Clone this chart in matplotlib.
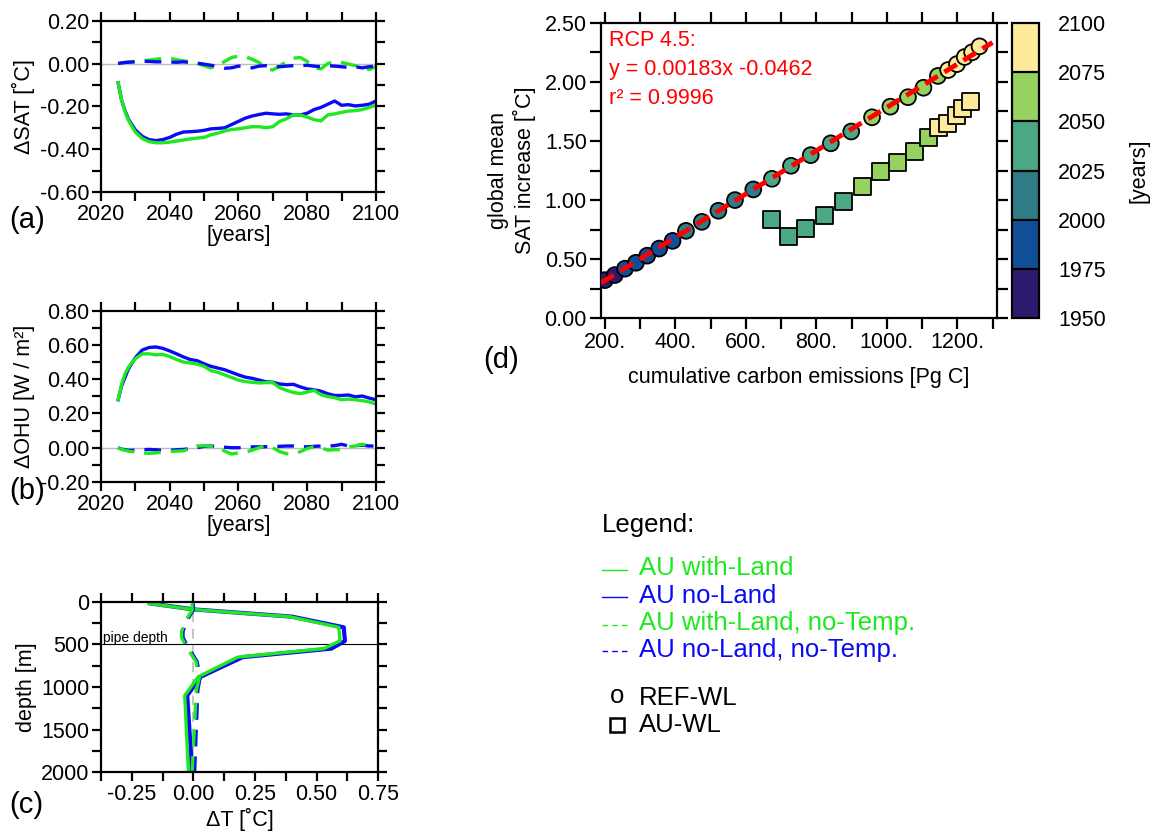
import numpy as np
import matplotlib
matplotlib.use('Agg')
import matplotlib.pyplot as plt
from matplotlib.colors import ListedColormap, BoundaryNorm
from matplotlib.ticker import MultipleLocator, FuncFormatter
from matplotlib.lines import Line2D

plt.rcParams['font.family'] = ['Liberation Sans', 'DejaVu Sans']
plt.rcParams['axes.unicode_minus'] = False

GREEN = '#1ee81e'
BLUE = '#0a0af5'

# ---------------- data ----------------
years = [2025, 2026, 2027, 2028, 2030, 2032, 2034, 2036, 2038, 2040,
         2042, 2044, 2046, 2048, 2050, 2052, 2054, 2056, 2058, 2060,
         2062, 2064, 2066, 2068, 2070, 2072, 2074, 2076, 2078, 2080,
         2082, 2084, 2086, 2088, 2090, 2092, 2094, 2096, 2098, 2100]

# (a) delta SAT
sat_noland = [-0.09, -0.17, -0.22, -0.26, -0.31, -0.34, -0.355, -0.36, -0.355, -0.345,
              -0.33, -0.32, -0.318, -0.316, -0.312, -0.305, -0.303, -0.30, -0.285, -0.27,
              -0.255, -0.245, -0.238, -0.232, -0.235, -0.237, -0.235, -0.24, -0.24, -0.232,
              -0.215, -0.205, -0.19, -0.175, -0.195, -0.192, -0.198, -0.195, -0.19, -0.175]
sat_land = [-0.09, -0.17, -0.225, -0.265, -0.32, -0.35, -0.365, -0.37, -0.37, -0.367,
            -0.362, -0.357, -0.352, -0.348, -0.345, -0.333, -0.325, -0.315, -0.308, -0.305,
            -0.30, -0.295, -0.295, -0.30, -0.295, -0.27, -0.258, -0.24, -0.24, -0.25,
            -0.262, -0.268, -0.24, -0.235, -0.228, -0.222, -0.22, -0.215, -0.205, -0.195]
sat_land_notemp = [0.0, 0.002, 0.005, 0.007, 0.01, 0.013, 0.016, 0.02, 0.024, 0.025,
                   0.018, 0.012, 0.008, 0.0, -0.01, -0.02, -0.01, 0.01, 0.028, 0.035,
                   0.032, 0.02, 0.005, -0.025, -0.03, -0.012, 0.01, 0.025, 0.028, 0.01,
                   -0.02, -0.025, 0.0, 0.01, 0.005, -0.002, -0.01, -0.015, -0.028, -0.015]
sat_noland_notemp = [0.0, 0.003, 0.005, 0.006, 0.008, 0.01, 0.01, 0.008, 0.008, 0.007,
                     0.006, 0.008, 0.005, 0.002, -0.003, -0.008, -0.015, -0.022, -0.02, -0.012,
                     -0.015, -0.02, -0.012, -0.01, -0.015, -0.015, -0.012, -0.01, -0.01, -0.008,
                     -0.012, -0.015, -0.01, -0.012, -0.015, -0.018, -0.015, -0.02, -0.015, -0.012]

# (b) delta OHU
ohu_noland = [0.28, 0.36, 0.41, 0.46, 0.525, 0.57, 0.585, 0.588, 0.58, 0.565,
              0.548, 0.53, 0.515, 0.508, 0.49, 0.475, 0.465, 0.455, 0.44, 0.425,
              0.412, 0.405, 0.395, 0.385, 0.382, 0.372, 0.368, 0.37, 0.355, 0.343,
              0.338, 0.33, 0.315, 0.305, 0.305, 0.308, 0.297, 0.302, 0.29, 0.28]
ohu_land = [0.28, 0.37, 0.43, 0.47, 0.52, 0.548, 0.548, 0.542, 0.545, 0.532,
            0.515, 0.50, 0.495, 0.488, 0.475, 0.45, 0.44, 0.425, 0.41, 0.395,
            0.386, 0.382, 0.378, 0.38, 0.38, 0.35, 0.335, 0.322, 0.316, 0.325,
            0.335, 0.31, 0.298, 0.292, 0.28, 0.284, 0.28, 0.275, 0.268, 0.255]
ohu_land_notemp = [0.0, -0.01, -0.015, -0.02, -0.025, -0.03, -0.033, -0.03, -0.025, -0.022,
                   -0.02, -0.018, -0.005, 0.01, 0.012, 0.008, 0.006, -0.02, -0.037, -0.03,
                   -0.027, -0.014, 0.0, 0.012, 0.0, -0.023, -0.035, -0.037, -0.023, -0.005,
                   0.006, 0.0, -0.014, -0.012, -0.01, 0.006, 0.01, 0.02, 0.01, 0.0]
ohu_noland_notemp = [0.0, -0.008, -0.012, -0.015, -0.015, -0.012, -0.01, -0.012, -0.015, -0.015,
                     -0.012, -0.01, -0.005, 0.0, 0.008, 0.01, 0.005, 0.003, 0.0, 0.0,
                     0.002, 0.005, 0.005, 0.006, 0.005, 0.008, 0.01, 0.01, 0.006, 0.005,
                     0.008, 0.01, 0.01, 0.012, 0.02, 0.01, 0.012, 0.015, 0.01, 0.01]

# (c) temperature profile
depth_solid = [20, 90, 175, 300, 460, 550, 650, 880, 1100, 2000]
dT_land = [-0.18, -0.005, 0.39, 0.59, 0.595, 0.53, 0.18, 0.02, -0.035, -0.02]
dT_noland = [-0.175, 0.0, 0.40, 0.61, 0.615, 0.56, 0.20, 0.03, -0.025, -0.005]
depth_dash = [20, 100, 215, 350, 420, 530, 700, 880, 1040, 2000]
dT_land_notemp = [-0.005, -0.005, -0.03, -0.048, -0.048, -0.028, 0.01, 0.025, 0.012, -0.005]
dT_noland_notemp = [0.0, 0.0, -0.025, -0.042, -0.042, -0.022, 0.015, 0.028, 0.018, 0.005]
pipe_depth = 500

# (d) SAT vs cumulative emissions
ref_emis = [200, 228, 257, 288, 320, 354, 392, 430, 475, 522, 569, 621, 674, 728,
            784, 841, 899, 958, 1010, 1060, 1104, 1145, 1174, 1199, 1221, 1242, 1263]
ref_sat = [0.323, 0.366, 0.42, 0.47, 0.53, 0.59, 0.655, 0.74, 0.816, 0.91, 1.0, 1.09, 1.18, 1.29,
           1.38, 1.48, 1.58, 1.70, 1.79, 1.87, 1.95, 2.05, 2.10, 2.15, 2.21, 2.25, 2.30]
ref_year = [1965, 1970, 1975, 1980, 1985, 1990, 1995, 2000, 2005, 2010, 2015, 2020, 2025, 2030,
            2035, 2040, 2045, 2050, 2055, 2060, 2065, 2070, 2075, 2080, 2085, 2090, 2095]
au_emis = [672, 721, 770, 822, 877, 931, 983, 1031, 1078, 1117, 1147, 1172, 1197, 1215, 1237]
au_sat = [0.839, 0.695, 0.76, 0.872, 0.985, 1.117, 1.238, 1.317, 1.407, 1.529,
          1.613, 1.647, 1.717, 1.774, 1.835]
au_year = [2025, 2030, 2035, 2040, 2045, 2050, 2055, 2060, 2065, 2070,
           2075, 2080, 2085, 2090, 2095]
fit_slope = 0.00183
fit_icpt = -0.0462
fit_x = [190, 1300]

cbar_bounds = [1950, 1975, 2000, 2025, 2050, 2075, 2100]
cbar_colors = ['#2d1a6e', '#104f98', '#2e7c87', '#4aa984', '#96d25f', '#fdea9b']

# ---------------- figure ----------------
fig = plt.figure(figsize=(11.51, 8.32), dpi=100)
FS = 15.5
LFS = 18.5


def style_axes(ax, ticklen=6.5):
    for s in ax.spines.values():
        s.set_linewidth(1.6)
    ax.tick_params(which='both', direction='out', length=ticklen, width=1.6,
                   top=True, right=True, labelsize=FS, pad=2)


def fmt2(v, pos):
    return '%.2f' % v


ax_a = fig.add_axes([0.0877, 0.7692, 0.2389, 0.2059])
ax_a.axhline(0, color='#bbbbbb', lw=1, zorder=0)
ax_a.plot(years, sat_noland, color=BLUE, lw=2.4)
ax_a.plot(years, sat_land, color=GREEN, lw=2.4)
ax_a.plot(years, sat_land_notemp, color=GREEN, lw=2.4, dashes=(5, 3))
ax_a.plot(years, sat_noland_notemp, color=BLUE, lw=2.4, dashes=(5, 3))
ax_a.set_xlim(2020, 2100)
ax_a.set_ylim(-0.6, 0.2)
ax_a.xaxis.set_major_locator(MultipleLocator(20))
ax_a.xaxis.set_minor_locator(MultipleLocator(10))
ax_a.yaxis.set_major_locator(MultipleLocator(0.2))
ax_a.yaxis.set_minor_locator(MultipleLocator(0.1))
ax_a.yaxis.set_major_formatter(FuncFormatter(fmt2))
style_axes(ax_a)
ax_a.set_xlabel('[years]', fontsize=FS, labelpad=0)
ax_a.set_ylabel('ΔSAT [˚C]', fontsize=FS, labelpad=3)

ax_b = fig.add_axes([0.0877, 0.4207, 0.2389, 0.2059])
ax_b.axhline(0, color='#bbbbbb', lw=1, zorder=0)
ax_b.plot(years, ohu_noland, color=BLUE, lw=2.4)
ax_b.plot(years, ohu_land, color=GREEN, lw=2.4)
ax_b.plot(years, ohu_noland_notemp, color=BLUE, lw=2.4, dashes=(5, 3))
ax_b.plot(years, ohu_land_notemp, color=GREEN, lw=2.4, dashes=(5, 3))
ax_b.set_xlim(2020, 2100)
ax_b.set_ylim(-0.2, 0.8)
ax_b.xaxis.set_major_locator(MultipleLocator(20))
ax_b.xaxis.set_minor_locator(MultipleLocator(10))
ax_b.yaxis.set_major_locator(MultipleLocator(0.2))
ax_b.yaxis.set_minor_locator(MultipleLocator(0.1))
ax_b.yaxis.set_major_formatter(FuncFormatter(fmt2))
style_axes(ax_b)
ax_b.set_xlabel('[years]', fontsize=FS, labelpad=0)
ax_b.set_ylabel('ΔOHU [W / m²]', fontsize=FS, labelpad=3)

ax_c = fig.add_axes([0.0877, 0.0718, 0.2409, 0.2050])
ax_c.axvline(0, color='#bbbbbb', lw=1.2, dashes=(6, 4), zorder=0)
ax_c.axhline(pipe_depth, color='black', lw=0.8)
ax_c.text(-0.365, pipe_depth - 30, 'pipe depth', fontsize=10)
ax_c.plot(dT_noland, depth_solid, color=BLUE, lw=3.0)
ax_c.plot(dT_land, depth_solid, color=GREEN, lw=2.4)
ax_c.plot(dT_noland_notemp, depth_dash, color=BLUE, lw=2.4, dashes=(5, 3))
ax_c.plot(dT_land_notemp, depth_dash, color=GREEN, lw=2.4, dashes=(5, 3))
ax_c.set_xlim(-0.375, 0.75)
ax_c.set_ylim(2000, 0)
ax_c.xaxis.set_major_locator(MultipleLocator(0.25))
ax_c.xaxis.set_minor_locator(MultipleLocator(0.125))
ax_c.yaxis.set_major_locator(MultipleLocator(500))
ax_c.yaxis.set_minor_locator(MultipleLocator(250))
ax_c.xaxis.set_major_formatter(FuncFormatter(fmt2))
style_axes(ax_c)
ax_c.set_xlabel('ΔT [˚C]', fontsize=FS, labelpad=2)
ax_c.set_ylabel('depth [m]', fontsize=FS, labelpad=3)

# panel letters
for lab, yy in [('(a)', 0.735), ('(b)', 0.41), ('(c)', 0.032)]:
    fig.text(0.008, yy, lab, fontsize=21, va='center')
fig.text(0.420, 0.567, '(d)', fontsize=21, va='center')

# (d)
cmap = ListedColormap(cbar_colors)
norm = BoundaryNorm(cbar_bounds, cmap.N)
ax_d = fig.add_axes([0.5219, 0.6174, 0.3441, 0.3553])
ax_d.scatter(ref_emis, ref_sat, c=ref_year, cmap=cmap, norm=norm, s=130,
             marker='o', edgecolors='black', linewidths=1.3, zorder=3)
sc = ax_d.scatter(au_emis, au_sat, c=au_year, cmap=cmap, norm=norm, s=150,
                  marker='s', edgecolors='black', linewidths=1.3, zorder=3)
fx = np.array(fit_x)
ax_d.plot(fx, fit_slope * fx + fit_icpt, color='red', lw=3.5, dashes=(3, 1.6), zorder=4)
ax_d.text(0.02, 0.975, 'RCP 4.5:\ny = 0.00183x -0.0462\nr² = 0.9996', transform=ax_d.transAxes,
          color='red', fontsize=FS, va='top', ha='left', linespacing=1.5)
ax_d.set_xlim(188, 1312)
ax_d.set_ylim(0, 2.5)
ax_d.xaxis.set_major_locator(MultipleLocator(200))
ax_d.xaxis.set_minor_locator(MultipleLocator(100))
ax_d.xaxis.set_major_formatter(FuncFormatter(lambda v, p: '%d.' % v))
ax_d.yaxis.set_major_locator(MultipleLocator(0.5))
ax_d.yaxis.set_minor_locator(MultipleLocator(0.25))
ax_d.yaxis.set_major_formatter(FuncFormatter(fmt2))
style_axes(ax_d, ticklen=8)
ax_d.set_xlabel('cumulative carbon emissions [Pg C]', fontsize=FS, labelpad=10)
ax_d.set_ylabel('global mean\nSAT increase [˚C]', fontsize=FS, labelpad=6)

cax = fig.add_axes([0.8790, 0.6174, 0.02346, 0.3553])
cb = fig.colorbar(sc, cax=cax, ticks=cbar_bounds, drawedges=True)
cb.outline.set_linewidth(1.6)
cb.dividers.set_linewidth(1.6)
cax.tick_params(length=0, pad=14, labelsize=FS)
cb.set_label('[years]', fontsize=FS, rotation=90, labelpad=16)

# legend block
fig.text(0.523, 0.369, 'Legend:', fontsize=LFS, va='center')
leg_rows = [('AU with-Land', GREEN, '-'), ('AU no-Land', BLUE, '-'),
            ('AU with-Land, no-Temp.', GREEN, '--'), ('AU no-Land, no-Temp.', BLUE, '--')]
row_y = [0.317, 0.284, 0.251, 0.219]
for (txt, col, ls), yy in zip(leg_rows, row_y):
    if ls == '-':
        fig.add_artist(Line2D([0.523, 0.545], [yy - 0.002, yy - 0.002], color=col, lw=1.0))
    else:
        fig.add_artist(Line2D([0.523, 0.545], [yy - 0.002, yy - 0.002], color=col, lw=1.0,
                              dashes=(4, 3)))
    fig.text(0.555, yy, txt, color=col, fontsize=LFS, va='center')
fig.text(0.536, 0.163, 'o', fontsize=LFS, va='center', ha='center')
fig.add_artist(Line2D([0.536], [0.129], marker='s', markersize=9.5, markerfacecolor='none',
                      markeredgecolor='black', markeredgewidth=1.8))
fig.text(0.555, 0.161, 'REF-WL', fontsize=LFS, va='center')
fig.text(0.555, 0.129, 'AU-WL', fontsize=LFS, va='center')

fig.savefig('out.png', dpi=100)
